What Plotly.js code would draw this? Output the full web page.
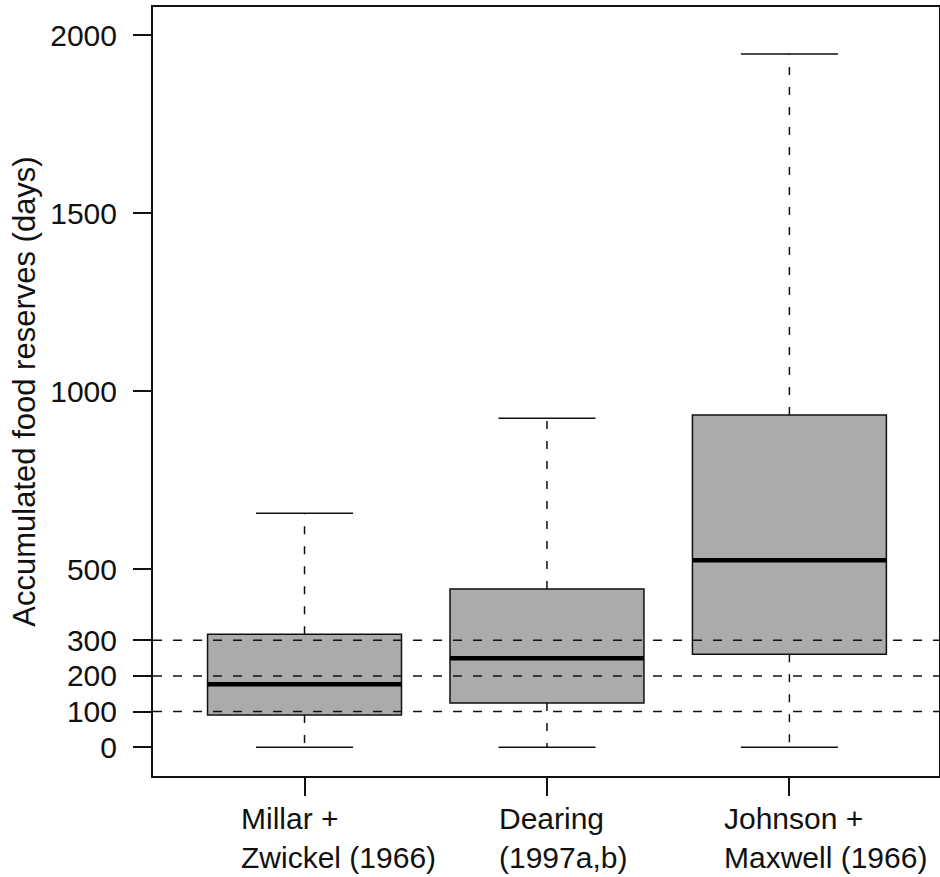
<!DOCTYPE html>
<html>
<head>
<meta charset="utf-8">
<script src="https://cdn.plot.ly/plotly-3.0.1.min.js"></script>
<style>html,body{margin:0;padding:0;background:#fff;}</style>
</head>
<body>
<div id="chart" style="width:940px;height:877px;"></div>
<script>
// Data
const categories = ["Millar +<br>Zwickel (1966)", "Dearing<br>(1997a,b)", "Johnson +<br>Maxwell (1966)"];
const lowerWhisker = [0, 0, 0];
const q1Values = [90, 124, 261];
const medianValues = [177, 250, 525];
const q3Values = [317, 444, 933];
const upperWhisker = [657, 924, 1947];
const referenceLines = [100, 200, 300];
const yTickValues = [0, 100, 200, 300, 500, 1000, 1500, 2000];
const labelShifts = [-66, -50, -67];

const xPos = categories.map((c, i) => i);
const boxWidth = 0.8;
const capHalf = 0.2;
const fillGray = '#ababab';
const FONT = 'Liberation Sans, Arial, sans-serif';

const traces = [];
// boxes
traces.push({
  type: 'box',
  x: xPos,
  q1: q1Values,
  median: medianValues,
  q3: q3Values,
  lowerfence: q1Values,
  upperfence: q3Values,
  width: boxWidth,
  fillcolor: fillGray,
  line: {color: '#111', width: 1.5},
  hoverinfo: 'skip',
  showlegend: false
});
// whiskers (dashed), caps (solid), medians (thick)
xPos.forEach((x, i) => {
  traces.push({
    type: 'scatter', mode: 'lines',
    x: [x, x, null, x, x],
    y: [q3Values[i], upperWhisker[i], null, q1Values[i], lowerWhisker[i]],
    line: {color: '#111', width: 1.5, dash: '8px,12px'},
    hoverinfo: 'skip', showlegend: false
  });
  traces.push({
    type: 'scatter', mode: 'lines',
    x: [x - capHalf, x + capHalf, null, x - capHalf, x + capHalf],
    y: [upperWhisker[i], upperWhisker[i], null, lowerWhisker[i], lowerWhisker[i]],
    line: {color: '#111', width: 1.5},
    hoverinfo: 'skip', showlegend: false
  });
  traces.push({
    type: 'scatter', mode: 'lines',
    x: [x - boxWidth / 2, x + boxWidth / 2],
    y: [medianValues[i], medianValues[i]],
    line: {color: '#000', width: 4.5},
    hoverinfo: 'skip', showlegend: false
  });
});

const shapes = referenceLines.map(v => ({
  type: 'line', xref: 'paper', yref: 'y', x0: 0, x1: 1, y0: v, y1: v,
  line: {color: '#111', width: 1.5, dash: '9px,11px'}, layer: 'above'
}));

const annotations = categories.map((c, i) => ({
  xref: 'x', yref: 'paper', x: xPos[i], y: 0, yshift: -24,
  xanchor: 'left', yanchor: 'top', xshift: labelShifts[i],
  text: c, showarrow: false, align: 'left',
  font: {family: FONT, size: 30, color: '#111'}
}));

const layout = {
  width: 940, height: 877,
  margin: {l: 153, r: 1, t: 7, b: 101},
  paper_bgcolor: '#fff', plot_bgcolor: '#fff',
  font: {family: FONT, size: 30, color: '#111'},
  xaxis: {
    range: [-0.625, 2.617],
    tickvals: xPos, ticktext: categories.map(() => ''),
    ticks: 'outside', ticklen: 18, tickwidth: 2, tickcolor: '#111',
    showline: true, linecolor: '#111', linewidth: 2, mirror: true,
    showgrid: false, zeroline: false
  },
  yaxis: {
    range: [-81, 2079],
    tickvals: yTickValues, ticktext: yTickValues.map(String),
    ticks: 'outside', ticklen: 18, tickwidth: 2, tickcolor: '#111',
    ticklabelstandoff: 10,
    showline: true, linecolor: '#111', linewidth: 2, mirror: true,
    showgrid: false, zeroline: false,
    title: {text: 'Accumulated food reserves (days)', font: {family: FONT, size: 31, color: '#111'}, standoff: 5}
  },
  shapes: shapes,
  annotations: annotations,
  showlegend: false
};

Plotly.newPlot('chart', traces, layout, {staticPlot: true, displayModeBar: false});
</script>
</body>
</html>
